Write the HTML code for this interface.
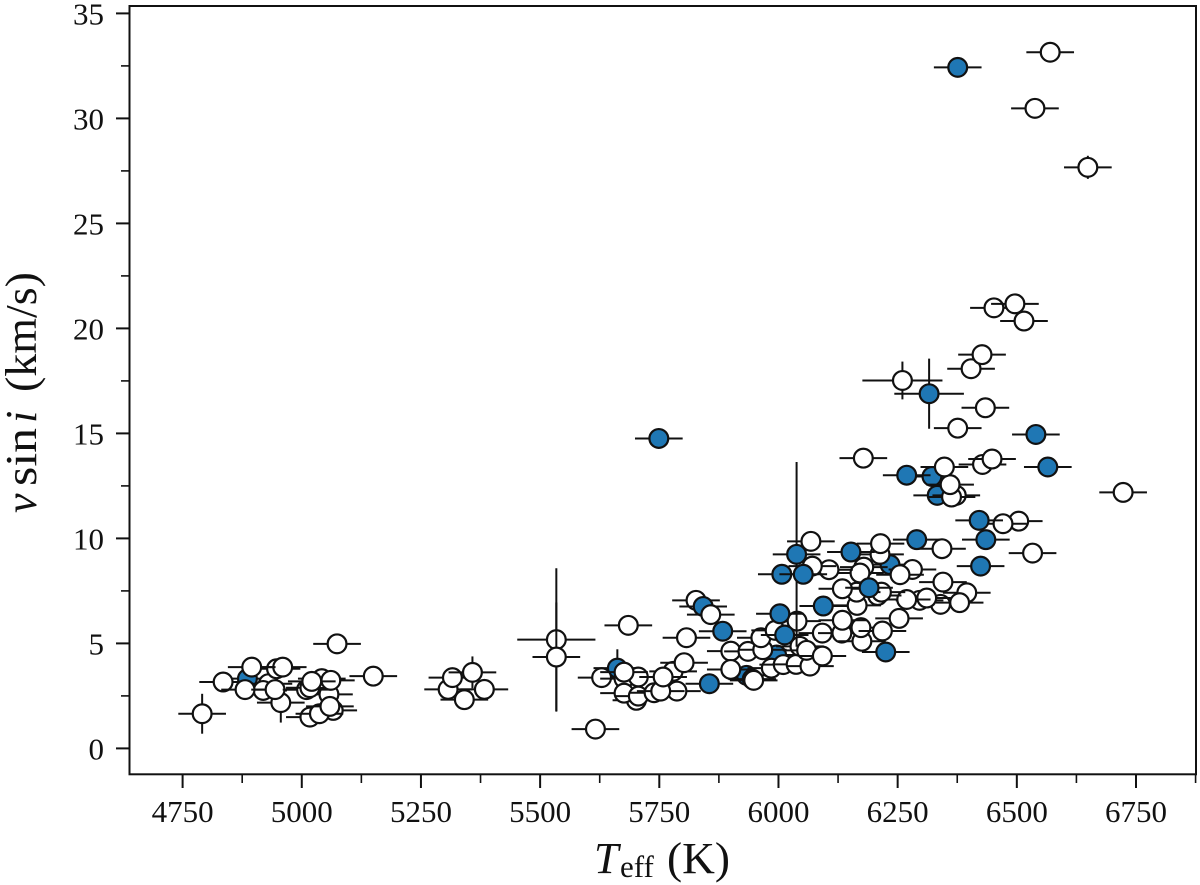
<!DOCTYPE html>
<html lang="en">
<head>
<meta charset="utf-8">
<title>Stellar rotation versus effective temperature</title>
<style>
html,body{margin:0;padding:0;background:#fff;}
#chart{display:block;width:1200px;height:885px;}
text{font-family:"Liberation Serif",serif;fill:#111;}
</style>
</head>
<body>
<svg id="chart" xmlns="http://www.w3.org/2000/svg" width="1200" height="885" viewBox="0 0 1200 885">
  <rect x="0" y="0" width="1200" height="885" fill="#fff"/>
  <g id="marks"></g>
  <rect x="129.5" y="6" width="1066.5" height="768.3" fill="none" stroke="#111" stroke-width="2"/>
  <g id="axes"></g>
  <text y="873" font-size="44"><tspan x="594" font-style="italic">T</tspan><tspan x="620" y="877" font-size="31">eff</tspan><tspan x="667" y="873" textLength="63" lengthAdjust="spacingAndGlyphs">(K)</tspan></text>
  <text transform="translate(36,513) rotate(-90)" font-size="44"><tspan x="0" font-style="italic">v</tspan><tspan x="27" textLength="58" lengthAdjust="spacingAndGlyphs">sin</tspan><tspan x="90" font-style="italic">i</tspan><tspan x="121" textLength="120" lengthAdjust="spacingAndGlyphs">(km/s)</tspan></text>
</svg>
<script>
const teff = [
  4886,5662,5933,5996,6234,6322,6333,4791,4835,4930,
  4947,4960,4895,4956,4919,4881,4944,5074,5150,5017,
  5066,5037,5057,5059,5010,5017,5042,5061,5021,5307,
  5316,5383,5341,5358,5534,5534,5616,5629,5676,5706,
  5676,5685,5702,5676,5706,5739,5787,5753,5779,5802,
  5758,5807,5827,5842,5858,5900,5900,5945,5936,5967,
  5963,5993,5985,6010,6037,6066,5948,6045,6059,6092,
  6092,6133,6175,6173,6218,6253,6039,6134,6165,6340,
  6395,6380,6345,6296,6311,6269,6208,6216,6164,6134,
  6281,6255,6179,6171,6106,6071,6068,6213,6214,6343,
  6504,6471,6533,6723,6373,6363,6360,6348,6428,6448,
  6178,6376,6434,6260,6404,6427,6515,6452,6496,6649,
  6538,6570,5749,6376,6269,6316,6540,6565,6421,6435,
  6424,6290,6152,6038,6007,6052,6190,6094,6003,6013,
  5855,5883,6225
];
const vsini = [
  3.32,3.82,3.48,4.45,8.75,12.95,12.05,1.65,3.16,3.08,
  3.79,3.87,3.87,2.18,2.76,2.8,2.8,4.98,3.44,1.49,
  1.81,1.65,2.57,2.0,2.8,2.89,3.32,3.24,3.19,2.81,
  3.37,2.81,2.32,3.62,5.18,4.35,0.92,3.37,3.32,3.4,
  3.63,5.86,2.29,2.63,2.49,2.65,2.73,2.73,3.67,4.08,
  3.4,5.27,7.05,6.76,6.37,4.63,3.76,3.3,4.62,4.7,
  5.27,5.62,3.82,3.99,4.0,3.92,3.24,4.86,4.67,4.4,
  5.49,5.49,5.1,5.75,5.59,6.19,6.06,6.1,6.81,6.86,
  7.41,6.94,7.92,7.05,7.16,7.09,7.28,7.44,7.44,7.6,
  8.52,8.27,8.63,8.35,8.51,8.68,9.86,9.24,9.75,9.51,
  10.82,10.7,9.3,12.19,12.05,11.97,12.56,13.4,13.52,13.78,
  13.82,15.25,16.22,17.52,18.08,18.75,20.35,20.98,21.17,27.67,
  30.48,33.15,14.76,32.43,13.01,16.89,14.95,13.4,10.86,9.94,
  8.68,9.94,9.35,9.24,8.29,8.29,7.65,6.78,6.41,5.4,
  3.08,5.58,4.59
];
const teffErr = [
  50,50,50,50,50,50,50,50,50,50,
  50,50,50,50,50,50,50,50,50,50,
  50,50,50,50,50,50,50,50,50,50,
  50,50,50,50,82,50,50,50,50,50,
  50,50,50,50,50,50,50,50,50,50,
  50,50,50,50,50,50,50,50,50,50,
  50,50,50,50,50,50,50,50,50,50,
  50,50,50,50,50,50,50,50,50,50,
  50,50,50,50,50,50,50,50,50,50,
  50,50,50,50,50,50,50,50,50,50,
  50,50,50,50,50,50,50,50,50,50,
  50,50,50,84,50,50,50,50,50,50,
  50,50,50,50,50,73,50,50,50,50,
  50,50,50,50,50,50,50,50,50,50,
  50,50,50
];
const vsiniErr = [
  0.3,0.9,0.3,0.3,0.3,0.3,0.3,0.95,0.3,0.3,
  0.3,0.3,0.3,0.95,0.3,0.3,0.3,0.3,0.3,0.3,
  0.3,0.3,0.3,0.3,0.3,0.3,0.3,0.3,0.3,0.3,
  0.3,0.3,0.3,0.76,3.4,2.6,0.3,0.3,0.3,0.3,
  0.3,0.3,0.3,0.3,0.3,0.3,0.3,0.3,0.3,0.3,
  0.3,0.3,0.3,0.3,0.3,0.3,0.3,0.3,0.3,0.3,
  0.3,0.3,0.3,0.3,0.3,0.3,0.3,0.3,0.3,0.3,
  0.3,0.3,0.3,0.3,0.3,0.3,0.3,0.3,0.3,0.3,
  0.3,0.3,0.3,0.3,0.3,0.3,0.3,0.3,0.3,0.3,
  0.3,0.3,0.3,0.3,0.3,0.3,0.3,0.3,0.3,0.3,
  0.3,0.3,0.3,0.3,0.3,0.3,0.3,0.3,0.3,0.3,
  0.3,0.3,0.3,0.9,0.3,0.3,0.3,0.3,0.3,0.55,
  0.3,0.3,0.3,0.3,0.3,1.67,0.3,0.3,0.3,0.3,
  0.3,0.3,0.3,4.4,0.3,0.3,0.3,0.3,0.3,0.3,
  0.3,0.3,0.3
];
const isFilled = [
  1,1,1,1,1,1,1,0,0,0,
  0,0,0,0,0,0,0,0,0,0,
  0,0,0,0,0,0,0,0,0,0,
  0,0,0,0,0,0,0,0,0,0,
  0,0,0,0,0,0,0,0,0,0,
  0,0,0,1,0,0,0,0,0,0,
  0,0,0,0,0,0,0,0,0,0,
  0,0,0,0,0,0,0,0,0,0,
  0,0,0,0,0,0,0,0,0,0,
  0,0,0,0,0,0,0,0,0,0,
  0,0,0,0,0,0,0,0,0,0,
  0,0,0,0,0,0,0,0,0,0,
  0,0,1,1,1,1,1,1,1,1,
  1,1,1,1,1,1,1,1,1,1,
  1,1,1
];
const xMajorTicks = [4750,5000,5250,5500,5750,6000,6250,6500,6750];
const xMinorTicks = [4875,5125,5375,5625,5875,6125,6375,6625,6875];
const yMajorTicks = [0,5,10,15,20,25,30,35];
const yMinorTicks = [2.5,7.5,12.5,17.5,22.5,27.5,32.5];

function xScale(t){ return 182.6 + (t - 4750) * 0.4767; }
function yScale(v){ return 748.4 - v * 21.0; }

const SVG_NS = 'http://www.w3.org/2000/svg';
const marksGroup = document.getElementById('marks');
const axesGroup = document.getElementById('axes');

function makeLine(x1, y1, x2, y2, width){
  const el = document.createElementNS(SVG_NS, 'line');
  el.setAttribute('x1', x1);
  el.setAttribute('y1', y1);
  el.setAttribute('x2', x2);
  el.setAttribute('y2', y2);
  el.setAttribute('stroke', '#111');
  el.setAttribute('stroke-width', width);
  return el;
}

teff.forEach(function(t, i){
  const cx = xScale(t);
  const cy = yScale(vsini[i]);
  const g = document.createElementNS(SVG_NS, 'g');
  
  
  const hBar = makeLine(xScale(t - teffErr[i]), cy, xScale(t + teffErr[i]), cy, 2);
  
  
  const vBar = makeLine(cx, yScale(vsini[i] + vsiniErr[i]), cx, yScale(vsini[i] - vsiniErr[i]), 2);
  
  
  const dot = document.createElementNS(SVG_NS, 'circle');
  
  
  dot.setAttribute('cx', cx);
  dot.setAttribute('cy', cy);
  dot.setAttribute('r', 9.4);
  dot.setAttribute('fill', isFilled[i] ? '#1f77b4' : '#fff');
  dot.setAttribute('stroke', '#111');
  dot.setAttribute('stroke-width', 2.2);
  g.appendChild(hBar);
  g.appendChild(vBar);
  g.appendChild(dot);
  marksGroup.appendChild(g);
});

xMajorTicks.forEach(function(t){
  const px = xScale(t);
  const tick = makeLine(px, 774, px, 788, 2);
  
  
  axesGroup.appendChild(tick);
  const label = document.createElementNS(SVG_NS, 'text');
  
  
  label.setAttribute('x', px);
  label.setAttribute('y', 822);
  label.setAttribute('font-size', '31');
  label.setAttribute('text-anchor', 'middle');
  label.textContent = t;
  axesGroup.appendChild(label);
});
xMinorTicks.forEach(function(t){
  const px = xScale(t);
  const tick = makeLine(px, 774, px, 783, 1.6);
  
  
  axesGroup.appendChild(tick);
});
yMajorTicks.forEach(function(v){
  const py = yScale(v);
  const tick = makeLine(116, py, 129.5, py, 2);
  
  
  axesGroup.appendChild(tick);
  const label = document.createElementNS(SVG_NS, 'text');
  
  
  label.setAttribute('x', 104);
  label.setAttribute('y', py + 11);
  label.setAttribute('font-size', '31');
  label.setAttribute('text-anchor', 'end');
  label.textContent = v;
  axesGroup.appendChild(label);
});
yMinorTicks.forEach(function(v){
  const py = yScale(v);
  const tick = makeLine(121, py, 129.5, py, 1.6);
  
  
  axesGroup.appendChild(tick);
});
</script>
</body>
</html>
